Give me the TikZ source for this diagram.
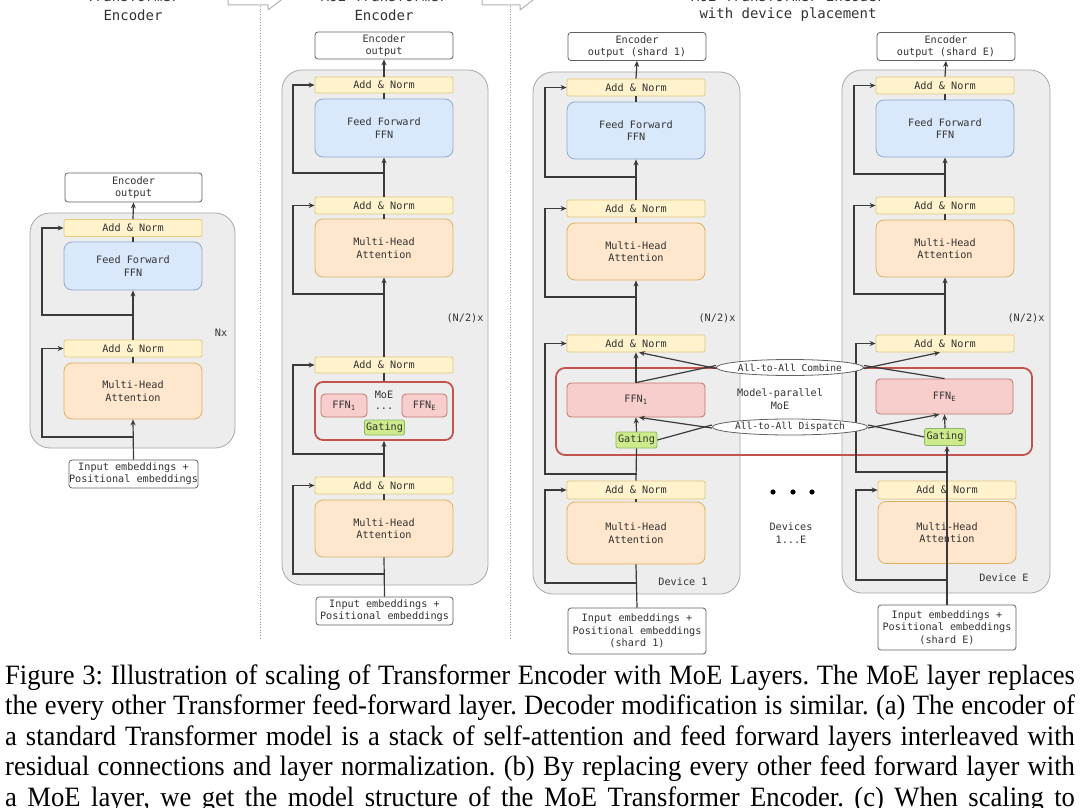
\documentclass[tikz,border=0pt]{standalone}
\usepackage{fontspec}
\setmainfont{Liberation Serif}
\newfontfamily\monofam{DejaVu Sans Mono}
\usetikzlibrary{arrows.meta,shapes.geometric}
\definecolor{anfill}{HTML}{FFF2CC}\definecolor{anstroke}{HTML}{E3C97A}
\definecolor{fffill}{HTML}{DAE8FC}\definecolor{ffstroke}{HTML}{8EA9D1}
\definecolor{mhfill}{HTML}{FFE6CC}\definecolor{mhstroke}{HTML}{E0B060}
\definecolor{exfill}{HTML}{F8CECC}\definecolor{exstroke}{HTML}{C07470}
\definecolor{gtfill}{HTML}{CDEB8B}\definecolor{gtstroke}{HTML}{8DB86A}
\definecolor{cfill}{HTML}{EDEDED}\definecolor{cstroke}{HTML}{A8A8A8}
\definecolor{txt}{HTML}{333333}\definecolor{lncol}{HTML}{3A3A3A}
\definecolor{moered}{HTML}{C25450}\definecolor{sepcol}{HTML}{9A9A9A}
\newcommand\capline[1]{\scalebox{0.95}[1]{\makebox[1126pt][s]{#1}}}
\tikzset{
  boxbase/.style={draw, inner sep=0pt, align=center, text=txt, line width=0.8pt,
    font=\monofam\fontsize{10.2}{12.4}\selectfont},
  plainbox/.style={boxbase, fill=white, draw=lncol!80, rounded corners=3pt},
  addn/.style={boxbase, fill=anfill, draw=anstroke, rounded corners=2pt, minimum width=138pt, minimum height=17pt},
  ffbox/.style={boxbase, fill=fffill, draw=ffstroke, rounded corners=8pt, minimum width=138pt},
  mhbox/.style={boxbase, fill=mhfill, draw=mhstroke, rounded corners=8pt, minimum width=138pt},
  exbox/.style={boxbase, fill=exfill, draw=exstroke, rounded corners=4pt},
  gatebox/.style={boxbase, fill=gtfill, draw=gtstroke, rounded corners=2pt},
  contbox/.style={draw=cstroke, fill=cfill, line width=0.8pt, rounded corners=20pt, inner sep=0pt},
  moebox/.style={draw=moered, line width=1.8pt, rounded corners=9pt, inner sep=0pt},
  lens/.style={ellipse, draw=lncol!80, fill=white, line width=0.8pt, inner sep=0pt,
    minimum width=138pt, minimum height=16pt, text=txt, font=\monofam\fontsize{9.6}{11}\selectfont},
  lbl/.style={inner sep=0pt, text=txt, align=center, font=\monofam\fontsize{10.2}{12.4}\selectfont},
  ttl/.style={inner sep=0pt, text=txt, font=\monofam\fontsize{14}{17}\selectfont},
  conn/.style={draw=lncol, line width=1.2pt},
  arr/.style={conn, -{Stealth[length=6pt,width=5pt]}},
  blockarr/.style={draw=black!30, fill=white, line width=1pt, line join=round},
  sep/.style={draw=sepcol, line width=0.7pt, dotted},
  capt/.style={inner sep=0pt, anchor=base west, font=\frenchspacing\fontsize{28}{30}\selectfont}
}
\begin{document}
\begin{tikzpicture}[x=1pt,y=-1pt]
\useasboundingbox (0,0) rectangle (1080,808);
\fill[white] (0,0) rectangle (1080,808);

% ---- header arrows and separators
\draw[blockarr] (228,-14) -- (268,-14) -- (268,-20) -- (285,-3) -- (268,10) -- (268,5) -- (228,5) -- cycle;
\draw[blockarr] (482,-14) -- (520,-14) -- (520,-20) -- (537,-3) -- (520,10) -- (520,5) -- (482,5) -- cycle;
\draw[sep] (260,6) -- (260,640);
\draw[sep] (510,6) -- (510,640);

% ---- titles
\node[ttl] (tA1) at (133,-4) {Transformer};
\node[ttl] (tA2) at (133,15) {Encoder};
\node[ttl] (tB1) at (384,-4) {MoE Transformer};
\node[ttl] (tB2) at (384,15) {Encoder};
\node[ttl] (tC1) at (788,-4) {MoE Transformer Encoder};
\node[ttl] (tC2) at (788,15) {with device placement};

% ---- containers
\node[contbox, minimum width=205pt, minimum height=235pt] (cA) at (132.5,330.5) {};
\node[contbox, minimum width=206pt, minimum height=515pt] (cB) at (385,327.5) {};
\node[contbox, minimum width=207pt, minimum height=522pt] (cC) at (636.5,333) {};
\node[contbox, minimum width=208pt, minimum height=523pt] (cD) at (946,331.5) {};
\node[moebox, minimum width=476pt, minimum height=87pt] (moeCD) at (794,411.5) {};

% ================= Panel A
\node[plainbox, minimum width=137pt, minimum height=29pt] (outA) at (133.5,187.5) {Encoder\\output};
\node[addn] (anA1) at (133,228) {Add \& Norm};
\node[ffbox, minimum height=48pt] (ffnA) at (133,266) {Feed Forward\\FFN};
\node[addn] (anA2) at (133,348.5) {Add \& Norm};
\node[mhbox, minimum height=56pt] (mhaA) at (133,391) {Multi-Head\\Attention};
\node[plainbox, minimum width=117pt, minimum height=28pt] (inA) at (133.5,474) {Input embeddings +\\Positional embeddings};
\node[lbl] (nxA) at (221,333) {Nx};
\coordinate (rA2) at (133,437);
\coordinate (rA1) at (133,315);
\draw[arr] (inA.north) -- (mhaA.south);
\draw[conn] (mhaA.north) -- (anA2.south);
\draw[arr] (anA2.north) -- (ffnA.south);
\draw[conn] (ffnA.north) -- (anA1.south);
\draw[arr] (anA1.north) -- (outA.south);
\draw[arr] (rA2) -- ++(-91,0) |- (anA2.west);
\draw[arr] (rA1) -- ++(-91,0) |- (anA1.west);

% ================= Panel B
\node[plainbox, minimum width=138pt, minimum height=27pt] (outB) at (384,45.5) {Encoder\\output};
\node[addn, minimum height=16pt] (anB1) at (384,85) {Add \& Norm};
\node[ffbox, minimum height=58pt] (ffnB) at (384,128) {Feed Forward\\FFN};
\node[addn] (anB2) at (384,205.5) {Add \& Norm};
\node[mhbox, minimum height=58pt] (mhaB1) at (384,248) {Multi-Head\\Attention};
\node[lbl] (nB) at (465,318) {(N/2)x};
\node[addn, minimum height=16pt] (anB3) at (384,365) {Add \& Norm};
\node[moebox, minimum width=138pt, minimum height=58pt, rounded corners=8pt] (moeB) at (384,411) {};
\node[lbl] (moeBl) at (384,395) {MoE};
\node[exbox, minimum width=46pt, minimum height=23pt] (ffB1) at (344,405.5) {FFN\textsubscript{1}};
\node[exbox, minimum width=45pt, minimum height=23pt] (ffBE) at (424.5,405.5) {FFN\textsubscript{E}};
\node[lbl] (dotsB) at (384,409) {...};
\node[gatebox, minimum width=40pt, minimum height=15pt] (gateB) at (384.5,427.5) {Gating};
\node[addn] (anB4) at (384,485.5) {Add \& Norm};
\node[mhbox, minimum height=57pt] (mhaB2) at (384,528.5) {Multi-Head\\Attention};
\node[plainbox, minimum width=137pt, minimum height=28pt] (inB) at (384.5,611) {Input embeddings +\\Positional embeddings};
\coordinate (rB4) at (384,574);
\coordinate (rB3) at (384,454);
\coordinate (rB2) at (384,294);
\coordinate (rB1) at (384,173);
\draw[conn] (inB.north) -- (mhaB2.south);
\draw[conn] (mhaB2.north) -- (anB4.south);
\draw[arr] (anB4.north) -- (moeB.south);
\draw[conn] (moeB.north) -- (anB3.south);
\draw[arr] (anB3.north) -- (mhaB1.south);
\draw[conn] (mhaB1.north) -- (anB2.south);
\draw[arr] (anB2.north) -- (ffnB.south);
\draw[conn] (ffnB.north) -- (anB1.south);
\draw[arr] (anB1.north) -- (outB.south);
\draw[arr] (rB4) -- ++(-91,0) |- (anB4.west);
\draw[arr] (rB3) -- ++(-91,0) |- (anB3.west);
\draw[arr] (rB2) -- ++(-91,0) |- (anB2.west);
\draw[arr] (rB1) -- ++(-91,0) |- (anB1.west);

% ================= Panel C (Device 1)
\node[plainbox, minimum width=138pt, minimum height=28pt] (outC) at (637,46.5) {Encoder\\output (shard 1)};
\node[addn] (anC1) at (636,87.5) {Add \& Norm};
\node[ffbox, minimum height=57pt] (ffnC) at (636,130.5) {Feed Forward\\FFN};
\node[addn] (anC2) at (636,208.5) {Add \& Norm};
\node[mhbox, minimum height=57pt] (mhaC1) at (636,251.5) {Multi-Head\\Attention};
\node[lbl] (nC) at (717,318) {(N/2)x};
\node[addn] (anC3) at (636,343.5) {Add \& Norm};
\node[exbox, minimum width=138pt, minimum height=34pt] (ffC1) at (636,400) {FFN\textsubscript{1}};
\node[gatebox, minimum width=41pt, minimum height=16pt] (gateC) at (636.5,440) {Gating};
\node[addn, minimum height=18pt] (anC4) at (636,490) {Add \& Norm};
\node[mhbox, minimum height=62pt] (mhaC2) at (636,533) {Multi-Head\\Attention};
\node[lbl] (devC) at (683,582) {Device 1};
\node[plainbox, minimum width=138pt, minimum height=46pt] (inC) at (637,631) {Input embeddings +\\Positional embeddings\\(shard 1)};
\coordinate (rC4) at (637,583);
\coordinate (rC3) at (637,474);
\coordinate (rC2) at (637,297);
\coordinate (rC1) at (637,177);
\draw[conn] (inC.north) -- (mhaC2.south);
\draw[conn] (mhaC2.north) -- (anC4.south);
\draw[conn] (anC4.north) -- (gateC.south);
\draw[arr] (gateC.north) -- (ffC1.south);
\draw[arr] (ffC1.north) -- (anC3.south);
\draw[arr] (anC3.north) -- (mhaC1.south);
\draw[conn] (mhaC1.north) -- (anC2.south);
\draw[arr] (anC2.north) -- (ffnC.south);
\draw[conn] (ffnC.north) -- (anC1.south);
\draw[arr] (anC1.north) -- (outC.south);
\draw[arr] (rC4) -- ++(-92,0) |- (anC4.west);
\draw[arr] (rC3) -- ++(-92,0) |- (anC3.west);
\draw[arr] (rC2) -- ++(-92,0) |- (anC2.west);
\draw[arr] (rC1) -- ++(-92,0) |- (anC1.west);

% ================= Panel D (Device E)
\node[plainbox, minimum width=138pt, minimum height=28pt] (outD) at (946,46.5) {Encoder\\output (shard E)};
\node[addn] (anD1) at (945,85.5) {Add \& Norm};
\node[ffbox, minimum height=57pt] (ffnD) at (945,128.5) {Feed Forward\\FFN};
\node[addn] (anD2) at (945,205.5) {Add \& Norm};
\node[mhbox, minimum height=57pt] (mhaD1) at (945,248.5) {Multi-Head\\Attention};
\node[lbl] (nD) at (1026,318) {(N/2)x};
\node[addn] (anD3) at (945,343.5) {Add \& Norm};
\node[exbox, minimum width=137pt, minimum height=35pt] (ffDE) at (944.5,396.5) {FFN\textsubscript{E}};
\node[gatebox, minimum width=41pt, minimum height=17pt] (gateD) at (945,437) {Gating};
\node[addn, minimum height=18pt] (anD4) at (947,490) {Add \& Norm};
\node[mhbox, minimum height=62pt] (mhaD2) at (947,532.5) {Multi-Head\\Attention};
\node[lbl] (devD) at (1004,578) {Device E};
\node[plainbox, minimum width=138pt, minimum height=45pt] (inD) at (947,627.5) {Input embeddings +\\Positional embeddings\\(shard E)};
\coordinate (rD4) at (947,580);
\coordinate (rD3) at (947,472);
\coordinate (rD2) at (945,294);
\coordinate (rD1) at (945,174);
\draw[arr] (gateD.north) -- (ffDE.south);
\draw[arr] (anD3.north) -- (mhaD1.south);
\draw[conn] (mhaD1.north) -- (anD2.south);
\draw[arr] (anD2.north) -- (ffnD.south);
\draw[conn] (ffnD.north) -- (anD1.south);
\draw[arr] (anD1.north) -- (outD.south);
\draw[arr] (rD4) -- ++(-91,0) |- (anD4.west);
\draw[arr] (rD3) -- ++(-91,0) |- (anD3.west);
\draw[arr] (rD2) -- ++(-91,0) |- (anD2.west);
\draw[arr] (rD1) -- ++(-91,0) |- (anD1.west);
\draw[arr] (inD.north) -- (inD.north |- gateD.south);

% ================= model-parallel MoE
\node[lbl] (mpl) at (780,399) {Model-parallel\\MoE};
\node[lens] (comb) at (790,367.5) {All-to-All Combine};
\node[lens] (disp) at (790,427) {All-to-All Dispatch};
\draw[conn] (ffC1.north) -- ([yshift=2pt]comb.west);
\draw[arr] ([yshift=-1pt]comb.west) -- ([xshift=3pt]anC3.south);
\draw[conn] (ffDE.north) -- ([yshift=2pt]comb.east);
\draw[arr] ([yshift=-1pt]comb.east) -- ([xshift=-5pt]anD3.south);
\draw[conn] (gateC.east) -- ([yshift=2pt]disp.west);
\draw[arr] ([yshift=-1pt]disp.west) -- ([xshift=3pt]ffC1.south);
\draw[conn] (gateD.west) -- ([yshift=2pt]disp.east);
\draw[arr] ([yshift=-1pt]disp.east) -- ([xshift=-5pt]ffDE.south);

% devices dots
\fill[black] (773,492) circle (2.6pt);
\fill[black] (793,492) circle (2.6pt);
\fill[black] (812,492) circle (2.6pt);
\node[lbl] (devs) at (791,533) {Devices\\1...E};

% ================= caption
\node[capt] (cap1) at (5,684) {\capline{Figure 3: Illustration of scaling of Transformer Encoder with MoE Layers. The MoE layer replaces}};
\node[capt] (cap2) at (5,714.5) {\capline{the every other Transformer feed-forward layer. Decoder modification is similar. (a) The encoder of}};
\node[capt] (cap3) at (5,745) {\capline{a standard Transformer model is a stack of self-attention and feed forward layers interleaved with}};
\node[capt] (cap4) at (5,775.5) {\capline{residual connections and layer normalization. (b) By replacing every other feed forward layer with}};
\node[capt] (cap5) at (5,806) {\capline{a MoE layer, we get the model structure of the MoE Transformer Encoder. (c) When scaling to}};
\end{tikzpicture}
\end{document}
